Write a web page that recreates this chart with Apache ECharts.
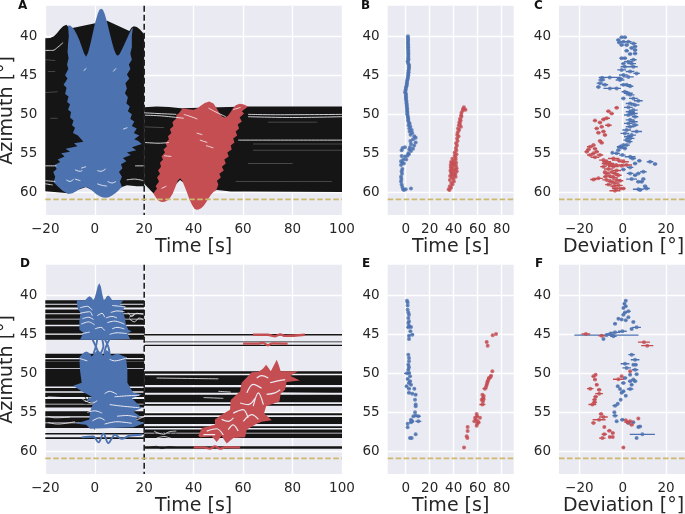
<!DOCTYPE html>
<html><head><meta charset="utf-8">
<style>html,body{margin:0;padding:0;background:#fff;overflow:hidden}#c{width:685px;height:514px;filter:blur(0.45px)}</style>
<script src="https://cdn.jsdelivr.net/npm/echarts@6/dist/echarts.min.js"></script></head>
<body><div id="c"></div>
<script>
const azTicks=[40,45,50,55,60];
const timeTicksWide=[-20,0,20,40,60,80,100];
const timeTicksNarrow=[0,20,40,60,80];
const devTicks=[-20,0,20];
const guideAz=60.9, stimulusEnd=20;

/* Panel A envelopes: [time s, azimuth deg] */
const blackLeftA=[[-20,40.25],[-18,40.2],[-16.5,40],[-15.3,39.6],[-14,39.1],[-12.8,38.7],[-11.5,38.5],[-10,39],[5,38],[14,39.3],[14.8,38.9],[15.8,38.72],[17,38.8],[18.2,39.1],[19.2,39.45],[20,39.75],[20,59.2],[17,59.2],[13,59.1],[11,59.3],[4.5,60.6],[-3.6,59.3],[-10.7,60.1],[-14,60],[-20,59.85]];
const blackRightA=[[20,49.1],[25,49],[30,49.05],[35,49.2],[62,49],[65,49],[100,49],[100,59.95],[62,59.9],[55,59.9],[49.5,59.7],[41,60],[34.5,58.4],[28,60.5],[23.7,60.1],[20,58.9]];
const blueA=[[-10.8,38.6],[-10.5,40],[-10.8,41],[-11,42],[-10.6,42.8],[-11.2,43.6],[-10.7,44.2],[-12,45],[-11,45.4],[-12.6,46.2],[-11.4,46.6],[-12,47.4],[-10.6,47.7],[-11.2,48.4],[-10,48.7],[-10.8,49.4],[-9.6,49.7],[-10,50.4],[-8.6,50.8],[-9.2,51.4],[-8,51.7],[-8.8,52.4],[-6.8,52.7],[-4.6,53.5],[-8.4,53.7],[-7,54.1],[-11.8,54.4],[-10,54.8],[-13.6,55],[-12.2,55.4],[-15,55.8],[-14,56.1],[-16.2,56.5],[-15.4,57],[-16.8,57.4],[-16,58],[-16.6,58.7],[-15,59.2],[-13,59.8],[-10.7,60.2],[-9,60.1],[-7.5,59.85],[-6,59.55],[-4.8,59.38],[-3.6,59.33],[-2.4,59.45],[-1,59.8],[0.5,60.2],[2,60.5],[3.3,60.65],[4.5,60.7],[5.7,60.62],[7,60.4],[8.3,60.1],[9.5,59.8],[10.5,59.45],[11,59.3],[10.2,58.6],[11,58],[9.8,57.4],[11.2,56.9],[10.6,56.4],[12.8,56],[11.4,55.6],[14.6,55.2],[13,54.9],[16.8,54.6],[15,54.2],[19,53.8],[17.6,53.4],[16,53.2],[18,52.7],[15.8,52.4],[17,51.8],[15,51.5],[16,50.9],[14.4,50.6],[15,50],[13.4,49.6],[14.2,49],[12.8,48.6],[13.4,47.8],[12.2,47.3],[13,46.7],[12.4,46],[14,45.4],[13,44.9],[14.4,44.2],[13.8,43.6],[15,43],[14.4,42.2],[15,41.4],[15,40],[15.4,38.9],[14.8,39.1],[14,39.6],[13,40.3],[12,41],[11,41.7],[10,42.3],[9.3,42.5],[8.6,42.3],[7.8,41.7],[7,40.8],[6,39.5],[5,38.2],[4,37.1],[3.3,36.6],[2.6,36.45],[1.9,36.6],[1.2,37.1],[0.2,38.2],[-0.8,39.6],[-1.8,41],[-2.7,42.1],[-3.5,42.6],[-4.3,42.2],[-5.2,41.4],[-6.2,40.5],[-7.2,39.8],[-8.2,39.2],[-9.2,38.8],[-10,38.6]];
const redA=[[23.7,60.1],[25.2,59.5],[24.6,59.2],[26,58.6],[25.2,58.1],[26.4,57.6],[25.6,57.2],[26.8,56.7],[26.4,56.2],[27.6,55.8],[27,55.4],[28.4,54.9],[27.8,54.5],[29.2,54.1],[28.6,53.7],[30,53.2],[29.6,52.8],[31,52.4],[30.4,51.9],[31.8,51.5],[31.4,51],[33,50.5],[33,50.1],[34.2,49.8],[35.5,49.2],[38,49.35],[40,49.4],[41.5,49.2],[43,48.85],[44.5,48.55],[46.3,48.35],[48,48.6],[49.3,49.2],[50.5,49.9],[51.6,50.3],[52.7,50.4],[53.8,50.2],[55,49.7],[56,49.15],[57.2,48.8],[58.7,48.65],[60.3,48.75],[62,49],[59.5,49.6],[60.4,49.9],[58.6,50.4],[59.5,50.9],[57.8,51.3],[58.4,51.8],[57,52.2],[57.6,52.7],[56,53.1],[56.5,53.6],[55,54],[55.4,54.5],[53.6,54.9],[54.2,55.4],[52.4,55.8],[53,56.3],[51.4,56.7],[52.2,57.2],[50.4,57.6],[51,58.1],[49.4,58.5],[50,59],[49.2,59.7],[48,59.95],[47,60.3],[46,60.8],[45,61.3],[44,61.75],[43,62.05],[42,62.2],[41.2,62.22],[40.3,62.1],[39.3,61.6],[38.3,60.9],[37.3,60],[36.3,59.2],[35.4,58.5],[34.5,58.2],[33.6,58.5],[32.6,59.3],[31.6,60.1],[30.5,60.7],[29.5,61],[28.3,61.2],[27,61.22],[26,61.1],[25,60.8],[24.2,60.4]];
const gapsA=[
[[-20,41.8],[-17,41.8],[-15,41.4],[-12.8,40.8]],[[-20,56.6],[-15.5,56.6]],[[-20,58.5],[-16,58.6]],[[-20,58.9],[-17,59.05]],[[16.3,56.6],[19.8,56.6]],[[12.9,58.4],[16,58.3],[19.8,58.5]],
[[-4.5,44.4],[-3.4,44.1]],[[7.5,44.5],[8.6,44.1]],[[11.5,51.9],[13.2,51.7]],[[1,57.2],[2.5,57.3],[4.4,57]],[[1,58.9],[3,59.1],[5,59.2]],[[-8,57.1],[-6,57.3],[-5,57.2]],[[-5.5,56.9],[-3.5,56.7]],[[5.2,58.6],[7,58.8],[8.6,58.6]],[[-8,58.3],[-5.8,58.5]],[[-11.5,58.4],[-10,58.6],[-8.5,58.3]],
[[20,49.8],[26,49.9],[33,50]],[[20,50.1],[27,50.2],[36,50.5]],[[20,53.6],[26,53.7],[30,53.6]],[[28,55.3],[31,55.4]],[[27,59.5],[29,59.2]],
[[62,50],[75,50.05],[100,50]],[[62,50.3],[80,50.4],[100,50.3]],[[58,53.3],[80,53.3],[100,53.3]],[[41.2,52.4],[43.5,52.6]],[[42.5,53.3],[45.5,53.6]],[[45,54],[48,54.3]],[[36,50],[39,50.3],[41.5,50.6]],[[46,49.2],[49,49.7],[53,50.3]],[[56,49.4],[59,49.1]]];
const faintGapsA=[[[-20,43],[-16,43.1]],[[-20,47.2],[-15,47.1]],[[-18,50.5],[-15,50.5]],[[-19,44.5],[-16,44.5]],[[20,51.6],[28,51.7]],[[64,53.8],[100,53.8]],[[64,54.6],[100,54.6]],[[57,58.6],[96,58.6]],[[62,56.3],[80,56.3]],[[70,51],[90,51]]];

/* Panel D bands [azimuth start, azimuth end] */
const bandsLeftD=[[40.64,41.07],[41.2,41.55],[41.8,42.3],[42.42,43],[43.1,43.76],[43.95,44.9],[45.05,45.7],[47.48,48.03],[48.2,48.4],[48.46,49.3],[49.4,51.67],[51.88,52.3],[52.5,53.03],[53.29,53.9],[54,54.36],[54.87,55.5],[55.65,56.3],[56.4,57],[57.65,57.85],[58.2,58.4]];
const bandsRightD=[[44.95,45.13],[45.9,46.02],[46.32,46.48],[49.74,50.04],[50.25,51.5],[51.79,52.5],[52.73,53.7],[53.93,54.14],[55.12,55.38],[55.6,56.5],[56.79,57],[57.18,57.6],[57.7,58.3],[59.35,59.65]];
const blueTopD=[[-7.3,40.64],[-3.9,40.64],[-3,40.3],[-2.2,40.1],[-1.4,40.25],[-0.6,40.6],[0,40.3],[0.6,39.6],[1.2,38.8],[1.85,38.45],[2.5,38.9],[3,39.8],[3.6,40.55],[4.2,40.5],[4.8,40.15],[5.5,40.02],[6.2,40.2],[7,40.6],[11.6,40.64],[10.2,41.2],[12.2,41.4],[11.3,42],[12.2,42.9],[12.6,43.76],[13.6,44.4],[14.9,44.6],[13.2,44.9],[14.3,45.6],[4.8,45.7],[-5.96,45.7],[-4.6,44.8],[-6.2,44.4],[-6.2,43.1],[-5.7,42.3],[-7,41.6]];
const blueLowD=[[-6.2,47.9],[-5.3,47.6],[-4.2,47.3],[-3.3,47.2],[-2.2,47.4],[-1.2,47.85],[0,47.4],[1.05,47],[2.3,47.3],[3.5,47.7],[4.2,47.2],[4.8,47],[5.8,47.3],[6.9,47.75],[8.2,47.55],[9.5,47.5],[11,47.7],[12.6,47.9],[13.2,49.5],[13.2,51.2],[15.6,52.5],[19,52.7],[15,53.2],[19,54.45],[15.6,54.9],[18.3,55.5],[16.3,55.9],[20,56.4],[15.6,56.9],[-1.9,57.1],[-3.5,56.6],[-7.6,56.45],[-2.2,55.9],[-1.9,54.9],[-0.6,53.8],[-3.3,53.4],[-1.2,53],[-5.3,52.3],[-8.7,51.6],[-5.3,51.2],[-6,49.5]];
const blueLinesD=[[[-1,45.6],[0.5,46.6],[1.8,47.6]],[[1,45.6],[0.5,46.5],[-0.5,47.5]],[[3,45.6],[3.5,46.5],[2.3,47.5]],[[4,45.6],[5.5,46.6],[6,47.5]],[[6,45.6],[4.5,46.6],[3.8,47.5]],[[-5.3,58.2],[-0.6,58.1],[1.45,58.85],[3.5,57.74],[5.5,58.93],[8.2,57.86],[10.9,58.4],[14,58],[19,57.86]]];
const blueGapsD=[[[-6,41.6],[-3,41.4],[-1,41.9]],[[7,41.3],[10,41.4],[12.5,41.5]],[[-6,42.3],[-2,42.1],[-1,42.6]],[[6.5,42.2],[9,42],[12,42.1]],[[-5.5,43.7],[-2.5,43.4],[0,43.8]],[[5,43.5],[8,43.3],[12,43.7]],[[-5,44.9],[-2,44.7]],[[6,45],[9,44.8],[13,44.9]],[[1,42.6],[3,42.3],[4,42.8]],[[0,44.3],[2.5,44.1],[4,44.5]],[[-5,43],[-2.5,42.8],[-0.5,43.1]],[[7,44.3],[9,44.1],[12,44.3]],[[4.5,42.9],[7,42.7],[9,42.9]],[[13,48],[8,48.4],[6,48.2]],[[-6,48.1],[-3,48.4]],[[8,53],[12,52.9],[18,52.8]],[[6,54],[11,54.2],[18,54.4]],[[9,55.5],[13,55.4],[17,55.6]],[[4,56.5],[9,56.2],[15,56.4]],[[-3,55],[0,54.8],[3,55.1]],[[-1,56.1],[2,55.7],[4,56]],[[-4,53.5],[-1,53.8],[1,53.5]],[[4,52.6],[6,52.3],[9,52.7]]];
const redMainD=[[63.5,49.87],[66.2,49.8],[68,49.4],[69.3,48.9],[70.3,49.3],[71.2,49.74],[72.4,49],[73.6,48.24],[74.5,49],[75.2,49.74],[82.3,49.74],[79,50.3],[83,50.9],[77.6,51.1],[77,52.1],[75.2,52.6],[74.7,53.6],[69.3,54.2],[68.5,55.1],[71.6,56],[67.5,56.2],[65.5,56.45],[61.5,57.2],[60.8,58.2],[56.1,58.3],[54.8,58.6],[53.4,59],[52.3,58.5],[51.3,58],[50.3,58.4],[49.3,58.8],[48.3,58.4],[47.3,58.1],[42.6,58.2],[41.9,58],[43.3,57],[48.6,56.6],[48.6,55.9],[51.3,55.3],[54.7,54.65],[55,53.4],[58.8,52.3],[59.4,51.2]];
const redLinesD=[[[64,45.05],[70,45.05],[73,45.25],[75,45],[77,45.2],[85,45.05]],[[60,46.2],[66,46.2],[68,46.05],[70,46.4],[72,46.15],[78,46.2]],[[40,59.48],[44,59.48],[46.6,59.65],[48.6,59.35],[50.7,59.65],[53,59.45],[58.8,59.48]]];
const redGapsD=[[[56,55.1],[60,54.65],[62,55.72]],[[51.3,55.9],[54,56.15],[56.1,55.7]],[[45.3,57.4],[49.3,57.1],[52,57.9]],[[54,57.2],[56,56.6],[58,57.4]],[[58.8,53.8],[62.1,54],[64.8,53.2]],[[64.1,54.2],[66.2,52.5],[68.2,54]],[[69.5,52.7],[72.9,52.5],[75,52.1]],[[61.5,52.5],[64.1,51.4],[67.5,51.9]],[[70.9,51.2],[73.6,51],[77,50.8]],[[65.5,50.6],[67.5,50.3],[70.2,50.6]],[[60.1,56.15],[63.5,55.3],[66.2,55.9]],[[43.9,57.86],[48.7,57.86]]];
const blackWigglesD=[[[-8,52.8],[-5,52.7],[-3,53.4],[-1.5,52.6],[0,53.2]],[[-6,53.5],[-3.5,53.9],[-1,53.3]],[[0,57.2],[-2,56.3],[-4,56.9]],[[24,57.6],[26,58.1],[28,57.4],[30,58.2],[33,57.7]],[[25,58.1],[27,57.5],[29,58.2],[31,57.6]],[[22,59.5],[25,59.35],[27,59.65],[30,59.4],[33,59.5]]];
const whiteWigglesD=[[[-19,53],[-12,53.1],[-6,53.1],[-3.5,53.6],[-1,53]],[[13.5,42.2],[15,42.7],[17,42.3],[20,42.5]],[[14,43],[16,43.4],[18,42.9],[20,43.2]],[[14,42.8],[16,42.4]],[[-19,55.5],[-16,55.7],[-10,55.6]],[[-19,56.3],[-15,56.5],[-8,56.2]],[[15,55.6],[17,55.9],[20,55.5]],[[24,57.4],[26,57.7],[28,57.8],[30,57.5],[33,57.4]],[[25,58.3],[28,58.1],[31,58.35]],[[63,52.45],[100,52.6]],[[25,50.6],[50,50.7]],[[44,53.1],[52,53.2]],[[50,52.3],[55,52.4]]];

/* Panel B: [time s, azimuth deg] */
const blueB=[[1.9,40],[1.9,40.2],[2,40.4],[2,40.6],[1.9,40.8],[2,41],[2,41.2],[2.1,41.4],[2,41.6],[2.2,41.8],[2.1,42],[2.2,42.2],[2.2,42.4],[2.2,42.6],[2.1,42.8],[2.3,43],[1.6,43.2],[1.9,43.4],[2.6,43.6],[2.8,43.8],[2.6,44],[2.7,44.2],[2.3,44.4],[2.4,44.6],[2.1,44.8],[2.2,45],[1.9,45.2],[1.7,45.4],[1.4,45.6],[1.1,45.8],[1,46],[0.9,46.2],[0.6,46.4],[0.2,46.6],[0,46.8],[-0.2,47],[-0.5,47.2],[0.3,47.4],[0.1,47.6],[0.3,47.8],[0.2,48],[0.5,48.2],[0.6,48.4],[0.7,48.6],[0.9,48.8],[0.9,49],[1.1,49.2],[1.2,49.4],[1.2,49.6],[1.4,49.8],[1.3,50],[1.7,50.2],[1.9,50.4],[2.2,50.6],[2,50.8],[2.6,51],[3.3,51.2],[2.4,51.4],[3.9,51.6],[3,51.8],[5,52],[3.3,52.2],[5.5,52.4],[4,52.6],[7.2,52.8],[8.3,53],[6.1,53.2],[3.9,53.4],[8.3,53.6],[4.4,53.8],[7,54],[3.6,54.2],[-2.6,54.3],[-0.6,54.2],[3,54.5],[6.1,54.4],[-3.4,54.6],[4.4,54.7],[2.2,55],[2.6,55.1],[-3.4,55.35],[-0.6,55.4],[1.4,55.3],[-2,55.8],[-3.9,56],[0.4,55.8],[-2.8,56.2],[-3.9,56.5],[-1.5,56.3],[-2.8,57],[-3.4,57.3],[-3.1,57.6],[-3.9,58],[-3.6,58.3],[-3.9,58.6],[-3.4,59],[-2.8,59.3],[-2.2,59.6],[-1.4,59.7],[0,59.6],[4.4,59.5]];
const redB=[[48.5,49.1],[47.8,49.3],[49.8,49.4],[47.5,49.5],[46.5,49.8],[46.2,50.1],[46.4,50.3],[45.2,50.6],[45.8,50.8],[44.7,51],[45.2,51.2],[44.3,51.4],[46,51.6],[43.6,51.8],[44.5,52],[43.4,52.3],[42.9,52.6],[44,52.8],[42.8,53.1],[43.2,53.4],[42,53.7],[42.7,54],[41.8,54.3],[42.2,54.6],[40.8,54.9],[42.3,55.1],[40.8,55.3],[41.5,55.5],[38.9,55.7],[41.6,55.8],[40,56],[37.8,56.1],[42,56.2],[38.8,56.3],[40.5,56.4],[37.5,56.5],[41.9,56.6],[39.5,56.7],[37.6,56.8],[42.4,56.9],[38.6,57],[40.8,57.1],[37.3,57.2],[42.5,57.3],[39.6,57.4],[37.8,57.5],[41.5,57.6],[38.5,57.7],[40.5,57.8],[37,57.9],[41.6,58],[38.6,58.1],[39.8,58.3],[36.8,58.4],[40.2,58.6],[38,58.8],[39,59],[36.8,59.2],[37.8,59.4],[35.8,59.6],[36.5,59.7]];

/* Panel C: [deviation deg, azimuth deg, half width of bar] */
const blueC=[[-0.5,40.13,1],[1,40.13,1],[-2,40.47,1],[0.3,40.7,1.5],[2.6,40.7,1.5],[4.9,40.9,1.5],[-1.6,40.8,1],[-0.5,41.1,1],[1.8,41.1,1],[5.7,41.3,1],[4.1,41.5,1],[5.7,41.75,1],[1.8,41.84,1],[5.7,42.2,1],[3.4,42.27,1],[-0.5,42.8,1],[1,42.8,1],[4.9,43,1.5],[2.6,43.25,2],[0.3,43.5,1],[4.1,43.5,2],[1,43.9,2],[4.9,43.9,2],[-0.5,44.3,2],[3.4,44.5,2],[6.4,44.75,1.5],[0.3,44.96,2],[2.6,45.2,2.5],[-1.25,45.4,1.5],[-6,45.26,5],[-9.5,45.3,1.5],[-9.7,45.6,1.5],[-10.5,46,1.5],[-8.2,46.2,1.5],[-11.2,46.5,1],[-5.9,46.67,3],[-2.8,46.67,2],[0.3,46.2,1.5],[-1.25,45.6,2],[1.8,46.2,2],[3.4,46.4,1.5],[1,47.1,1.5],[2.6,47.3,2],[3.4,47.5,2],[0.3,47.95,1],[4.9,47.95,2],[7.2,48.25,2],[3.4,48.6,2],[5.7,48.8,2],[2.6,49.1,2],[4.9,49.45,2],[4.1,49.8,1.5],[3.4,49.66,2],[4.9,49.88,2],[2.6,50.09,2],[5.7,50.3,1.5],[3.4,50.7,2],[4.9,50.95,2],[2.6,51.16,2],[5.7,51.37,1.5],[3.4,51.59,2],[1.8,52,2],[6.4,52.2,2.5],[1,52.44,2],[4.1,52.66,2],[2.6,52.87,2],[3.4,53.08,2],[1.8,53.3,1.5],[3,53.5,1.5],[0.3,53.94,1.5],[1.8,53.94,1.5],[-1.25,54.15,1.5],[-0.5,54.24,2],[1,54.36,1],[-2,54.58,1],[-4.8,54.92,0.5],[-2.8,55,1.5],[-0.17,55.22,1.5],[3.4,55.43,2.5],[4.6,55.65,1.5],[7.66,55.95,1],[5.7,56.29,1],[12.6,56.07,1.5],[14.9,56.37,1],[0.3,57.06,1],[3.4,56.8,1.5],[7.2,57.57,1],[3.4,57.57,1.5],[9.5,57.36,1.5],[5.7,57.8,1],[4.1,58.3,2.5],[9.5,58.3,1],[8.7,58.64,1],[7.2,58.64,1],[10.3,59.2,1],[7.2,59.6,2.5],[11,59.5,1.5],[8,59.7,1]];
const redC=[[-2.8,49.15,1],[-6.6,49.6,1],[-5.1,49.9,1],[-8.9,50.65,1],[-7.4,50.5,1.5],[-12.8,50.8,1],[-10.5,51.05,1],[-6.6,51.4,1.5],[-9.7,51.6,1],[-12,51.8,1],[-11.2,52.35,1],[-8.9,52.2,1],[-8.2,52.65,1],[-10.5,53.4,1],[-9.7,53.65,1],[-13.5,53.94,1],[-15,54.15,1.5],[-12.8,54.4,1],[-15.8,54.5,1],[-13.5,55,1],[-12,54.8,1],[-16.6,54.8,1],[-15,55.2,1.5],[-10.5,55.2,1.5],[-8.9,55.86,2],[-12.8,55.5,2],[-4.3,55.65,2.5],[-2,55.86,3],[-7.4,56.07,2],[0.3,56.07,2.5],[-5.9,56.29,2],[1.8,56.5,2.5],[-8.2,56.3,1.5],[-6,56.5,2],[-3,56.5,2],[-8.9,56.7,1.5],[-4.3,56.7,2.5],[-0.5,56.6,1.5],[-6.6,57,2],[-2.8,57.2,2],[-8.2,57.4,1],[-5.1,57.4,2],[-7.4,57.6,1.5],[-3.5,57.6,1.5],[-2,57.8,1.5],[-6,57.9,2],[-8,58,1],[-4.3,58.1,2],[-11.2,58.2,2],[-13.5,58.35,1.5],[-7.4,58.4,2],[-2.8,58.4,2],[-1.25,58.5,1.5],[-5.5,58.6,1.5],[-3.6,58.8,2],[-6.6,59,1.5],[-2,59.1,2],[-4.3,59.2,1.5],[-3,59.5,2],[-1,59.5,1.5],[-3.6,59.8,2.5],[0.3,59.5,1]];

/* Panel E: [time s, azimuth deg, half width of bar] */
const blueE=[[1.1,40.68,0.5],[1.6,40.9,0.5],[1.6,41.3,0.5],[1.6,41.83,0.5],[2.2,42.2,0.5],[2.75,42.5,0.5],[2.2,42.9,0.5],[2.75,43.33,0.5],[2.2,43.55,0.5],[2.75,43.9,0.5],[2.2,44.1,1.5],[4.4,44.06,1],[3.9,44.6,1],[5.5,45.04,1.5],[2.75,45.17,1],[2.75,45.6,0.5],[2.2,47.6,0.5],[2.75,48.03,0.5],[2.75,48.46,0.5],[2.2,48.9,1],[2.75,49.2,1],[2.2,49.53,1],[1.1,50,2.5],[2.75,49.95,1.5],[3.6,50.38,1],[1.6,50.72,1],[3.6,51,1.5],[2.75,51.24,1.5],[0.8,51.66,1],[4.4,51.45,1],[2.75,51.96,1.5],[7.2,51.96,1],[2.75,52.5,1.5],[5.5,52.6,1],[8.3,52.73,1],[7.75,53.37,0.5],[8.3,54,0.5],[8.3,54.2,0.5],[7.75,55,0.5],[8.3,55.4,0.5],[6.4,55.5,1],[10.5,55.5,2],[4.4,55.94,1],[1.6,56.45,0.5],[5.5,56.15,1],[10.5,56.15,2.5],[4.4,56.28,1.5],[1.6,56.9,0.5],[3.6,58.3,1],[5,58.3,0.5],[8.3,57.8,0.5]];
const redE=[[75.3,44.95,0.5],[72.5,45.1,0.5],[67.5,45.98,1],[68.3,46.45,0.5],[72.2,49.74,0.5],[71.1,50.3,1],[69.4,50.6,1.5],[70.5,50.5,0.5],[68.3,51,1],[69,50.8,0.5],[67.5,51.45,1],[68,51.2,0.5],[66,51.96,2],[67,51.7,0.5],[63.9,52.73,0.5],[64.4,53.16,0.5],[65,52.9,0.5],[63.3,53.37,0.5],[64.4,53.6,0.5],[65,53.3,0.5],[63.9,54,2.5],[59.1,55.2,0.5],[57.8,55.7,0.5],[59.5,55.5,1],[57.2,56.15,0.5],[61.9,55.7,0.5],[60,56.15,0.5],[59.1,56.7,0.5],[58.5,55.9,0.5],[60.8,56.3,1],[59.5,56.45,0.5],[51.6,56.88,0.5],[51.6,57.4,0.5],[50.8,58.07,0.5],[51.4,58.3,0.5],[48.6,59.5,0.5]];

/* Panel F: [deviation deg, azimuth deg, half width of bar] */
const blueF=[[1.4,40.68,0.6],[0.75,41.07,0.6],[1.4,41.4,0.6],[0.3,41.62,0.6],[2.6,42.05,1],[1.06,42.2,1],[0.3,42.5,0.8],[2.6,42.82,0.6],[-2,43,0.5],[-0.5,43.1,0.5],[1.4,43.2,0.5],[4.9,43.4,0.8],[-3.55,43.63,0.8],[6.4,44.1,2],[4.1,44.3,0.8],[-0.17,44.6,2],[-3.55,44.74,2.5],[-5.85,44.95,2],[-7.5,45.1,14.8],[-8.9,45.6,0.5],[-4.3,45.25,1.5],[4.1,47.6,1.5],[5.7,48.25,2],[4.9,48.9,0.6],[1.06,48.76,2],[6,48.9,0.8],[5.7,49.53,1.5],[1.8,49.3,2],[3.4,50.17,0.6],[6.4,50.1,0.8],[1.06,50.6,1],[4.9,50.8,1],[0.3,51.24,1],[3.4,51,1],[5.7,51,1],[4.1,51.45,0.8],[-2.3,51.66,0.5],[3.4,52,1.5],[-1.25,52,0.5],[0.3,52.3,0.8],[-0.5,52.5,0.8],[1.4,52.86,0.6],[-0.94,53.37,0.5],[-2.3,53.9,0.5],[-3.55,54.14,1.2],[-3.86,55,0.5],[-3.55,55.42,1.2],[-2.8,56.15,0.6],[-0.17,55.94,1],[2.6,56.36,1],[4.9,56.28,0.5],[7.97,56.8,0.8],[7.2,56.88,0.6],[9.05,57.82,5.8],[6.4,58.3,0.6]];
const redF=[[-17,44.95,2],[-9.7,45.17,1.5],[9.8,46,2.8],[11.3,46.45,2.8],[3.4,49.74,0.5],[-13.5,50.38,0.8],[-12.5,50.17,0.5],[-12.8,50.8,0.8],[-12,51.45,0.8],[-0.5,50.38,0.5],[-2,50.76,2.5],[-15,51.96,1.5],[-10.9,52.1,1],[-10.9,52.6,1.8],[-12.5,53,1],[-13,53.37,1],[-14,54,1.8],[-13,53.7,1],[-10,55.2,1],[-8.9,55.6,2],[-10.9,55.94,3],[-13.5,56.35,1],[1.4,56,0.5],[3.4,56.15,1.5],[2.3,56.28,1.5],[4.1,56.6,1],[7.2,55.8,0.4],[-8.5,56.88,0.5],[-6.16,57.35,1],[-4.6,57.65,0.8],[-8.5,57.8,1.2],[-6,58.15,0.5],[-9.4,58.3,1.5],[-4.6,58.15,0.5],[0.3,59.5,0.5]];

const BG='#eaeaf2',BLUE='#4c72b0',RED='#c44e52',BLACK='#151515',GOLD='#cdb96e',INK='#262626';
const TEXT='"DejaVu Sans"';
const grids=[
 {left:45.3,top:5.7,width:296.7,height:209.3},{left:387.7,top:5.7,width:126,height:209.3},{left:559,top:5.7,width:129,height:209.3},
 {left:45.3,top:264.7,width:296.7,height:209.3},{left:387.7,top:264.7,width:126,height:209.3},{left:559,top:264.7,width:129,height:209.3}];
const xSpec=[[-20,100,timeTicksWide,'Time [s]'],[-15,90,timeTicksNarrow,'Time [s]'],[-29.39,30.1,devTicks,'Deviation [°]']];
const xAxes=[],yAxes=[];
[0,1,2,0,1,2].forEach((k,i)=>{
  const s=xSpec[k];
  xAxes.push({type:'value',gridIndex:i,min:s[0],max:s[1],name:s[3],nameLocation:'middle',nameGap:23,
    nameTextStyle:{fontFamily:TEXT,fontSize:19,color:INK},
    axisLine:{show:false},axisTick:{show:false,customValues:s[2]},
    axisLabel:{customValues:s[2],fontFamily:TEXT,fontSize:13.5,color:INK,margin:7,hideOverlap:false,showMinLabel:true,showMaxLabel:true,formatter:v=>String(v).replace('-','\u2212')},
    splitLine:{show:true,lineStyle:{color:'#fff',width:1.3}}});
  yAxes.push({type:'value',gridIndex:i,inverse:true,min:36.07,max:62.9,name:k===0?'Azimuth [°]':'',nameLocation:'middle',nameGap:23,
    nameTextStyle:{fontFamily:TEXT,fontSize:19,color:INK},
    axisLine:{show:false},axisTick:{show:false,customValues:azTicks},
    axisLabel:{customValues:azTicks,fontFamily:TEXT,fontSize:13.5,color:INK,margin:8,hideOverlap:false},
    splitLine:{show:true,lineStyle:{color:'#fff',width:1.3}}});
});
const series=[];let zz=3;
function axes(g){return {xAxisIndex:g,yAxisIndex:g,z:zz++,silent:true,animation:false};}
function poly(g,pts,color){
  series.push(Object.assign(axes(g),{type:'custom',clip:true,data:[0],encode:{x:[],y:[]},
    renderItem:(p,api)=>({type:'polygon',shape:{points:pts.map(q=>api.coord(q))},style:{fill:color}})}));
}
function band(g,t0,t1,list,color){
  series.push(Object.assign(axes(g),{type:'custom',clip:true,data:list,encode:{x:[],y:[]},
    renderItem:(p,api)=>{const a=api.value(0),b=api.value(1);
      return {type:'polygon',shape:{points:[[t0,a],[t1,a],[t1,b],[t0,b]].map(q=>api.coord(q))},style:{fill:color}};}}));
}
function lines(g,list,color,width,opacity){
  list.forEach(d=>series.push(Object.assign(axes(g),{type:'line',data:d,showSymbol:false,smooth:0.35,
    lineStyle:{color:color,width:width,opacity:opacity==null?1:opacity},clip:true})));
}
function dots(g,list,color){
  series.push(Object.assign(axes(g),{type:'custom',clip:true,data:list,encode:{x:0,y:1},
    renderItem:(p,api)=>{const x=api.value(0),y=api.value(1),h=api.value(2);
      const a=api.coord([x-h,y]),b=api.coord([x+h,y]);
      return {type:'line',shape:{x1:a[0],y1:a[1],x2:b[0],y2:b[1]},style:{stroke:color,lineWidth:1.4}};}}));
  series.push(Object.assign(axes(g),{type:'scatter',data:list.map(d=>[d[0],d[1]]),symbolSize:4,itemStyle:{color:color},clip:true}));
}
function guides(g,xmin,xmax,withStim){
  if(withStim) series.push(Object.assign(axes(g),{type:'line',data:[[stimulusEnd,36.07],[stimulusEnd,62.9]],showSymbol:false,lineStyle:{color:'#222',width:1.6,type:[6,3]}}));
  series.push(Object.assign(axes(g),{type:'line',data:[[xmin,guideAz],[xmax,guideAz]],showSymbol:false,lineStyle:{color:GOLD,width:1.7,type:[5.5,2.5]}}));
}
/* A */
poly(0,blackLeftA,BLACK);poly(0,blackRightA,BLACK);
lines(0,faintGapsA,'#d8d8e0',0.6,0.45);
poly(0,blueA,BLUE);poly(0,redA,RED);
lines(0,gapsA,'#f2f2f7',0.9,0.95);
guides(0,-20,100,true);
/* B */
dots(1,blueB.map(d=>[d[0],d[1],0.6]),BLUE);dots(1,redB.map(d=>[d[0],d[1],0.6]),RED);guides(1,-15,90,false);
/* C */
dots(2,blueC,BLUE);dots(2,redC,RED);guides(2,-29.39,30.1,false);
/* D */
band(3,-20,20,bandsLeftD,BLACK);band(3,20,100,bandsRightD,BLACK);
lines(3,blackWigglesD,BLACK,0.9);lines(3,whiteWigglesD,'#eeeef4',0.9,0.9);
poly(3,blueTopD,BLUE);poly(3,blueLowD,BLUE);lines(3,blueLinesD,BLUE,1.9);lines(3,blueGapsD,BG,1);
poly(3,redMainD,RED);lines(3,redLinesD,RED,2.3);lines(3,redGapsD,BG,1.2);
guides(3,-20,100,true);
/* E */
dots(4,blueE,BLUE);dots(4,redE,RED);guides(4,-15,90,false);
/* F */
dots(5,blueF,BLUE);dots(5,redF,RED);guides(5,-29.39,30.1,false);

const letters=[['A',18,0],['B',361,0],['C',534,0],['D',20,258],['E',362,258],['F',535,258]];
const chart=echarts.init(document.getElementById('c'),null,{renderer:'canvas'});
chart.setOption({animation:false,backgroundColor:'#fff',
  grid:grids.map(g=>Object.assign({show:true,backgroundColor:BG,borderWidth:0,outerBoundsMode:'none'},g)),
  xAxis:xAxes,yAxis:yAxes,series:series,
  graphic:letters.map(l=>({type:'text',left:l[1],top:l[2],style:{text:l[0],font:'bold 12px '+TEXT,fill:'#111'}}))});
</script></body></html>
